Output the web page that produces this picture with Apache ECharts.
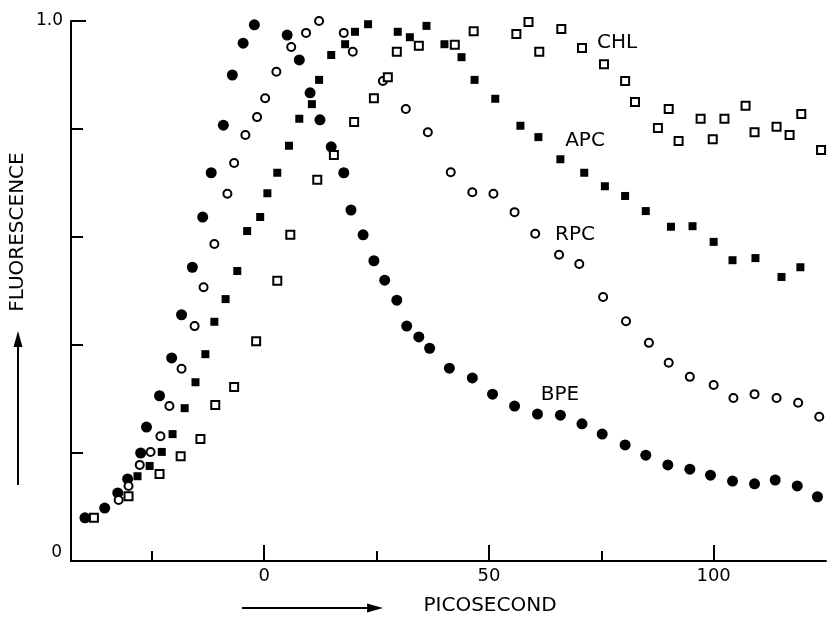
<!DOCTYPE html>
<html><head><meta charset="utf-8">
<script src="https://cdn.jsdelivr.net/npm/echarts@6/dist/echarts.min.js"></script>
<style>html,body{margin:0;padding:0;background:#fff}#c{width:828px;height:623px}</style>
</head><body><div id="c"></div>
<script>
// ---- data (x: picosecond, y: fluorescence, normalised) ----
const seriesNames = ['BPE', 'RPC', 'APC', 'CHL'];
const xMajorTicks = [0, 50, 100];
const xMinorTicks = [-25, 25, 75];
const yTicks = [0.2, 0.4, 0.6, 0.8];
const yTopTick = [1.0];
const yTopLabel = [1.0];
const yBottomLabel = [0];

const bpe = [[-39.9,0.080],[-35.5,0.098],[-32.6,0.126],[-30.4,0.152],[-27.5,0.200],[-26.2,0.248],[-23.3,0.306],[-20.6,0.376],[-18.4,0.456],[-16.0,0.544],[-13.7,0.637],[-11.8,0.719],[-9.1,0.807],[-7.1,0.900],[-4.7,0.959],[-2.2,0.993],[0.4,1.009],[2.7,1.004],[5.1,0.974],[7.8,0.928],[10.2,0.867],[12.4,0.817],[14.9,0.767],[17.7,0.719],[19.3,0.650],[22.0,0.604],[24.4,0.556],[26.8,0.520],[29.5,0.483],[31.7,0.435],[34.4,0.415],[36.8,0.394],[41.2,0.357],[46.3,0.339],[50.8,0.309],[55.7,0.287],[60.8,0.272],[65.9,0.270],[70.7,0.254],[75.2,0.235],[80.3,0.215],[84.9,0.196],[89.8,0.178],[94.7,0.170],[99.3,0.159],[104.2,0.148],[109.1,0.143],[113.7,0.150],[118.6,0.139],[123.1,0.119]];

const rpc = [[-32.4,0.113],[-30.2,0.139],[-27.7,0.178],[-25.3,0.202],[-23.1,0.231],[-21.1,0.287],[-18.4,0.356],[-15.5,0.435],[-13.5,0.507],[-11.1,0.587],[-8.2,0.680],[-6.7,0.737],[-4.2,0.789],[-1.6,0.822],[0.2,0.857],[2.7,0.906],[6.0,0.952],[9.3,0.978],[12.2,1.000],[15.1,1.002],[17.7,0.978],[19.7,0.943],[26.4,0.889],[31.5,0.837],[36.4,0.794],[41.5,0.720],[46.3,0.683],[51.0,0.680],[55.7,0.646],[60.3,0.606],[65.6,0.567],[70.1,0.550],[75.4,0.489],[80.5,0.444],[85.6,0.404],[90.0,0.367],[94.7,0.341],[100.0,0.326],[104.4,0.302],[109.1,0.309],[114.0,0.302],[118.8,0.293],[123.5,0.267]];

const apc = [[-28.2,0.157],[-25.5,0.176],[-22.8,0.202],[-20.4,0.235],[-17.7,0.283],[-15.3,0.331],[-13.1,0.383],[-11.1,0.443],[-8.6,0.485],[-6.0,0.537],[-3.8,0.611],[-0.9,0.637],[0.7,0.681],[2.9,0.719],[5.5,0.769],[7.8,0.819],[10.6,0.846],[12.2,0.891],[14.9,0.937],[18.0,0.957],[20.2,0.980],[23.1,0.994],[25.9,1.004],[29.7,0.980],[32.4,0.970],[36.1,0.991],[40.1,0.957],[43.9,0.933],[46.8,0.891],[51.4,0.856],[57.0,0.806],[61.0,0.785],[65.9,0.744],[71.2,0.719],[75.8,0.694],[80.3,0.676],[84.9,0.648],[90.5,0.619],[95.3,0.620],[100.0,0.591],[104.2,0.557],[109.3,0.561],[115.1,0.526],[119.3,0.544]];

const chl = [[-37.9,0.080],[-30.2,0.120],[-23.3,0.161],[-18.6,0.194],[-14.2,0.226],[-10.9,0.289],[-6.7,0.322],[-1.8,0.407],[2.9,0.519],[5.8,0.604],[11.8,0.706],[15.5,0.752],[20.0,0.813],[24.4,0.857],[27.5,0.896],[29.5,0.943],[34.4,0.954],[39.7,1.006],[42.4,0.956],[43.9,1.004],[46.6,0.981],[51.7,1.004],[56.1,0.976],[58.8,0.998],[61.2,0.943],[66.1,0.985],[70.7,0.950],[75.6,0.920],[80.3,0.889],[82.5,0.850],[87.6,0.802],[90.0,0.837],[92.2,0.778],[97.1,0.819],[99.8,0.781],[102.4,0.819],[107.1,0.843],[109.1,0.794],[114.0,0.804],[116.9,0.789],[119.5,0.828],[123.9,0.761]];

const chart = echarts.init(document.getElementById('c'), null, {renderer: 'canvas'});
const FONT = '"DejaVu Sans", sans-serif';
const axisLineStyle = {color: '#000', width: 2};
const tickStyle = {color: '#000', width: 2};
const xCommon = {type: 'value', min: -43, max: 125, splitLine: {show: false}, position: 'bottom'};
const yCommon = {type: 'value', min: 0, max: 1, splitLine: {show: false}, position: 'left'};

const option = {
  animation: false,
  backgroundColor: '#fff',
  grid: {left: 71, right: 2, top: 21, bottom: 62, containLabel: false},
  xAxis: [
    Object.assign({}, xCommon, {
      axisLine: {show: true, onZero: false, lineStyle: axisLineStyle},
      axisTick: {show: true, inside: true, length: 10, customValues: xMinorTicks, lineStyle: tickStyle},
      axisLabel: {show: false}
    }),
    Object.assign({}, xCommon, {
      axisLine: {show: false, onZero: false},
      axisTick: {show: true, inside: true, length: 16, customValues: xMajorTicks, lineStyle: tickStyle},
      axisLabel: {show: true, customValues: xMajorTicks, margin: 6, color: '#000', fontSize: 18, fontFamily: FONT}
    })
  ],
  yAxis: [
    Object.assign({}, yCommon, {
      axisLine: {show: true, onZero: false, lineStyle: axisLineStyle},
      axisTick: {show: true, inside: true, length: 12, customValues: yTicks, lineStyle: tickStyle},
      axisLabel: {show: true, customValues: yTopLabel, margin: 8, color: '#000', fontSize: 17, fontFamily: FONT,
        formatter: v => v.toFixed(1), verticalAlign: 'middle'}
    }),
    Object.assign({}, yCommon, {
      axisLine: {show: false, onZero: false},
      axisTick: {show: true, inside: true, length: 15, customValues: yTopTick, lineStyle: tickStyle},
      axisLabel: {show: true, customValues: yBottomLabel, margin: 9, color: '#000', fontSize: 17, fontFamily: FONT,
        formatter: v => String(v), verticalAlign: 'bottom'}
    })
  ],
  series: [
    {name: seriesNames[0], type: 'scatter', data: bpe, symbol: 'circle', symbolSize: 11,
     itemStyle: {color: '#000', opacity: 1}},
    {name: seriesNames[1], type: 'scatter', data: rpc, symbol: 'circle', symbolSize: 8,
     itemStyle: {color: '#fff', borderColor: '#000', borderWidth: 2, opacity: 1}},
    {name: seriesNames[2], type: 'scatter', data: apc, symbol: 'rect', symbolSize: 8,
     itemStyle: {color: '#000', opacity: 1}},
    {name: seriesNames[3], type: 'scatter', data: chl, symbol: 'rect', symbolSize: 8,
     itemStyle: {color: '#fff', borderColor: '#000', borderWidth: 2, opacity: 1}}
  ],
  graphic: [
    {type: 'text', x: 617, y: 43, style: {text: 'CHL', font: '20px ' + FONT, fill: '#000', textAlign: 'center', textVerticalAlign: 'middle'}},
    {type: 'text', x: 585, y: 141, style: {text: 'APC', font: '20px ' + FONT, fill: '#000', textAlign: 'center', textVerticalAlign: 'middle'}},
    {type: 'text', x: 575, y: 235, style: {text: 'RPC', font: '20px ' + FONT, fill: '#000', textAlign: 'center', textVerticalAlign: 'middle'}},
    {type: 'text', x: 560, y: 395, style: {text: 'BPE', font: '20px ' + FONT, fill: '#000', textAlign: 'center', textVerticalAlign: 'middle'}},
    {type: 'text', x: 490, y: 606, style: {text: 'PICOSECOND', font: '20px ' + FONT, fill: '#000', textAlign: 'center', textVerticalAlign: 'middle'}},
    {type: 'text', x: 18, y: 232, rotation: Math.PI / 2, style: {text: 'FLUORESCENCE', font: '20px ' + FONT, fill: '#000', textAlign: 'center', textVerticalAlign: 'middle'}},
    {type: 'line', shape: {x1: 242, y1: 608, x2: 370, y2: 608}, style: {stroke: '#000', lineWidth: 2}},
    {type: 'polygon', shape: {points: [[383, 608], [367, 603.5], [367, 612.5]]}, style: {fill: '#000'}},
    {type: 'line', shape: {x1: 18, y1: 344, x2: 18, y2: 485}, style: {stroke: '#000', lineWidth: 2}},
    {type: 'polygon', shape: {points: [[18, 331], [13.5, 347], [22.5, 347]]}, style: {fill: '#000'}}
  ]
};
chart.setOption(option);
</script>
</body></html>
